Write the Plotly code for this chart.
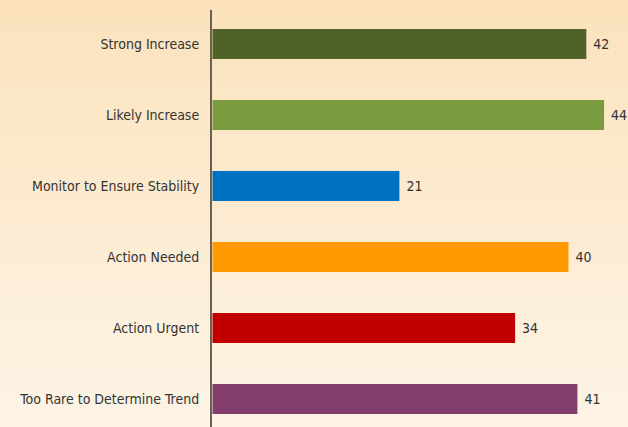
import plotly.graph_objects as go

categories = ["Strong Increase", "Likely Increase", "Monitor to Ensure Stability",
              "Action Needed", "Action Urgent", "Too Rare to Determine Trend"]
values = [42, 44, 21, 40, 34, 41]
colors = ["#4F6228", "#7B9B40", "#0070C0", "#FF9A00", "#C00000", "#833D6B"]

W, H = 628, 427
ML, MR, MT, MB = 212, 0, 10, 0
PX_PER_UNIT = 8.9
X0_PX = 211.5

fig = go.Figure()
fig.add_trace(go.Bar(
    y=categories, x=values, orientation="h",
    marker=dict(color=colors, line=dict(width=0)),
    width=0.42,
    text=[f" {v}" for v in values], textposition="outside",
    textfont=dict(family="DejaVu Sans Condensed", size=14, color="#333333"),
    cliponaxis=False, hoverinfo="skip",
))

# vertical background gradient
top = (251, 226, 188)
bot = (253, 244, 230)
n = 60
shapes = []
pw, ph = W - ML - MR, H - MT - MB
y_top = (H - MB) / ph
y_bot = -MB / ph
for i in range(n):
    t = i / (n - 1)
    c = tuple(round(top[k] + (bot[k] - top[k]) * t) for k in range(3))
    y1 = y_top - (y_top - y_bot) * i / n
    y0 = y_top - (y_top - y_bot) * (i + 1) / n
    shapes.append(dict(type="rect", xref="paper", yref="paper",
                       x0=-ML / pw - 0.01, x1=1.01, y0=y0 - 0.002, y1=y1 + 0.002,
                       fillcolor=f"rgb{c}", line=dict(width=0), layer="below"))

x_start = -(ML - X0_PX) / PX_PER_UNIT
fig.update_layout(
    width=W, height=H,
    margin=dict(l=ML, r=MR, t=MT, b=MB, pad=0),
    paper_bgcolor="rgb(252,235,210)", plot_bgcolor="rgba(0,0,0,0)",
    shapes=shapes, showlegend=False,
    xaxis=dict(range=[x_start, x_start + pw / PX_PER_UNIT], showgrid=False, zeroline=False,
               showticklabels=False, ticks="", showline=False, fixedrange=True),
    yaxis=dict(type="category", categoryorder="array", categoryarray=categories,
               range=[(H - MB - 44) / 71, -(44 - MT) / 71],
               showgrid=False, zeroline=False, ticks="",
               showline=True, linecolor="#6B6152", linewidth=2,
               ticklabelstandoff=8,
               tickfont=dict(family="DejaVu Sans Condensed", size=14, color="#333333")),
)

fig.write_html("out.html", config={"displayModeBar": False, "staticPlot": True},
               post_script="document.body.style.margin='0';document.body.style.padding='0';document.body.style.overflow='hidden';")
